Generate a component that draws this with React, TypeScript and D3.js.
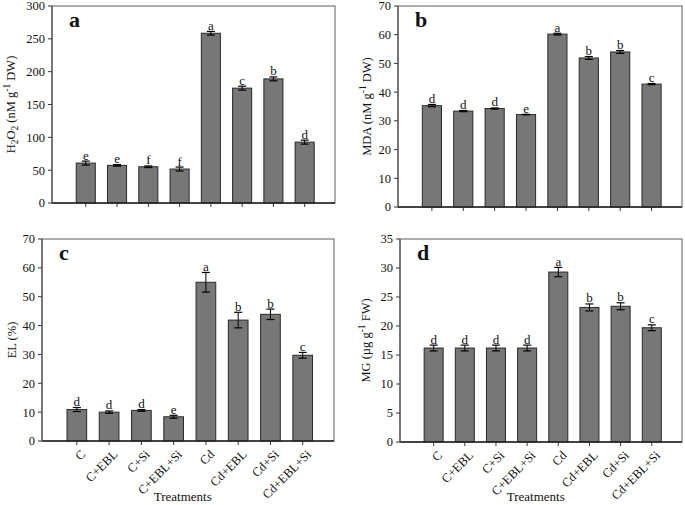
import React from "react";
import * as d3 from "d3";

const categories = ["C", "C+EBL", "C+Si", "C+EBL+Si", "Cd", "Cd+EBL", "Cd+Si", "Cd+EBL+Si"];

const h2o2 = [60.8, 57.3, 55.2, 51.7, 258.5, 174.9, 189.0, 92.7];
const h2o2Err = [3, 1.2, 1.2, 3, 2.8, 3, 3, 3];
const h2o2Letters = ["e", "e", "f", "f", "a", "c", "b", "d"];

const mda = [35.3, 33.4, 34.3, 32.2, 60.2, 51.9, 54.0, 42.8];
const mdaErr = [0.4, 0.2, 0.2, 0.1, 0.3, 0.5, 0.5, 0.2];
const mdaLetters = ["d", "d", "d", "e", "a", "b", "b", "c"];

const el = [10.9, 10.0, 10.6, 8.4, 55.0, 41.9, 43.9, 29.7];
const elErr = [0.7, 0.4, 0.3, 0.5, 3.4, 2.7, 1.8, 1.0];
const elLetters = ["d", "d", "d", "e", "a", "b", "b", "c"];

const mg = [16.2, 16.2, 16.2, 16.2, 29.3, 23.2, 23.4, 19.7];
const mgErr = [0.5, 0.5, 0.5, 0.5, 0.8, 0.6, 0.6, 0.5];
const mgLetters = ["d", "d", "d", "d", "a", "b", "b", "c"];

const FONT = "Liberation Serif, Times New Roman, Times, serif";

type PanelProps = {
  x0: number; x1: number; y0: number; y1: number;
  yMax: number; yStep: number;
  values: number[]; errs: number[]; letters: string[];
  tag: string;
  yLabel: React.ReactNode;
  yLabelX: number;
  showX: boolean;
};

function Panel(p: PanelProps) {
  const x = d3.scaleLinear().domain([-1.08, 7.97]).range([p.x0, p.x1]);
  const y = d3.scaleLinear().domain([0, p.yMax]).range([p.y1, p.y0]);
  const ticks = d3.range(0, p.yMax + p.yStep / 2, p.yStep);
  const bw = x(0.61) - x(0);
  const cap = 4;
  return (
    <g style={{ fontFamily: FONT }}>
      <rect x={p.x0} y={p.y0} width={p.x1 - p.x0} height={p.y1 - p.y0} fill="white" stroke="#777" strokeWidth={1.2} />
      {ticks.map((t) => (
        <g key={t}>
          <line x1={p.x0 - 4} x2={p.x0} y1={y(t)} y2={y(t)} stroke="#333" />
          <text x={p.x0 - 7} y={y(t)} dy="0.35em" textAnchor="end" fontSize={12.5} fill="#111">{t}</text>
        </g>
      ))}
      {p.values.map((v, i) => {
        const cx = x(i);
        const top = y(v + p.errs[i]);
        return (
          <g key={i}>
            <rect x={cx - bw / 2} y={y(v)} width={bw} height={y(0) - y(v)} fill="#777777" stroke="#2a2a2a" strokeWidth={1} />
            <line x1={cx} x2={cx} y1={y(v - p.errs[i])} y2={top} stroke="#000" strokeWidth={1} />
            <line x1={cx - cap} x2={cx + cap} y1={top} y2={top} stroke="#000" strokeWidth={1.2} />
            <line x1={cx - cap} x2={cx + cap} y1={y(v - p.errs[i])} y2={y(v - p.errs[i])} stroke="#000" strokeWidth={1.2} />
            <text x={cx} y={top - 1.5} textAnchor="middle" fontSize={13} fill="#111">{p.letters[i]}</text>
            <line x1={cx} x2={cx} y1={p.y1} y2={p.y1 + 4} stroke="#333" />
            {p.showX && (
              <text
                transform={`translate(${cx + 3},${p.y1 + 8}) rotate(-45)`}
                textAnchor="end"
                dy="0.7em"
                fontSize={12.5}
                fill="#111"
              >
                {categories[i]}
              </text>
            )}
          </g>
        );
      })}
      <line x1={p.x0} x2={p.x1} y1={p.y1} y2={p.y1} stroke="#222" strokeWidth={1.3} />
      <line x1={p.x0} x2={p.x0} y1={p.y0} y2={p.y1} stroke="#555" strokeWidth={1.2} />
      <text x={p.x0 + 17} y={p.y0 + 21} fontSize={22} fontWeight="bold" fill="#111">{p.tag}</text>
      <text
        transform={`translate(${p.yLabelX},${(p.y0 + p.y1) / 2}) rotate(-90)`}
        textAnchor="middle"
        fontSize={12.5}
        fill="#111"
      >
        {p.yLabel}
      </text>
      {p.showX && (
        <text x={(x(0) + x(7)) / 2 - 7} y={501} textAnchor="middle" fontSize={13} fill="#111">Treatments</text>
      )}
    </g>
  );
}

export default function App() {
  return (
    <svg width={685} height={505} style={{ position: "absolute", left: 0, top: 0, background: "white" }}>
      <rect width={685} height={505} fill="white" />
      <Panel
        x0={52} x1={335} y0={6} y1={203} yMax={300} yStep={50}
        values={h2o2} errs={h2o2Err} letters={h2o2Letters} tag="a" showX={false} yLabelX={15}
        yLabel={[
          <tspan key="t1">H</tspan>,
          <tspan key="t2" dy={3} fontSize={9.5}>2</tspan>,
          <tspan key="t3" dy={-3}>O</tspan>,
          <tspan key="t4" dy={3} fontSize={9.5}>2</tspan>,
          <tspan key="t5" dy={-3}> (nM g</tspan>,
          <tspan key="t6" dy={-5} fontSize={9.5}>-1</tspan>,
          <tspan key="t7" dy={5}> DW)</tspan>,
        ]}
      />
      <Panel
        x0={398} x1={682} y0={6} y1={207} yMax={70} yStep={10}
        values={mda} errs={mdaErr} letters={mdaLetters} tag="b" showX={false} yLabelX={371}
        yLabel={[
          <tspan key="t1">MDA (nM g</tspan>,
          <tspan key="s1" dy={-5} fontSize={9.5}>-1</tspan>,
          <tspan key="s2" dy={5}> DW)</tspan>,
        ]}
      />
      <Panel
        x0={42} x1={334} y0={239} y1={441} yMax={70} yStep={10}
        values={el} errs={elErr} letters={elLetters} tag="c" showX={true} yLabelX={16}
        yLabel="EL (%)"
      />
      <Panel
        x0={400} x1={682} y0={239} y1={442} yMax={35} yStep={5}
        values={mg} errs={mgErr} letters={mgLetters} tag="d" showX={true} yLabelX={370}
        yLabel={[
          <tspan key="t1">{"MG (\u00b5g g"}</tspan>,
          <tspan key="s1" dy={-5} fontSize={9.5}>-1</tspan>,
          <tspan key="s2" dy={5}> FW)</tspan>,
        ]}
      />
    </svg>
  );
}
